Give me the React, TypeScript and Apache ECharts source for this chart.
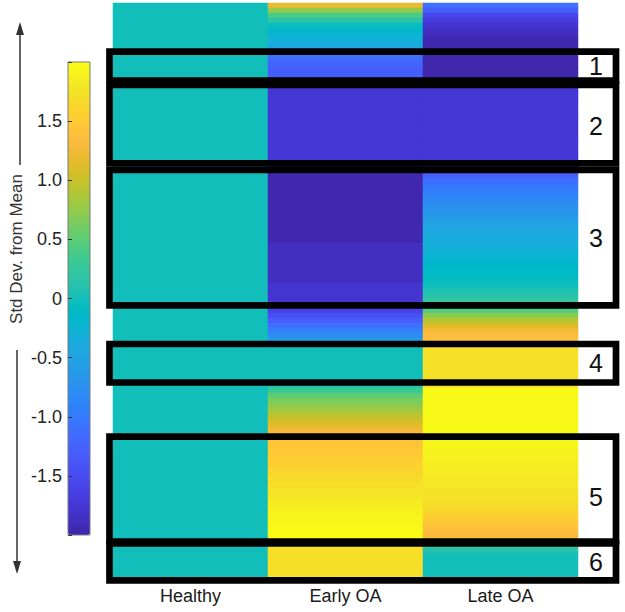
import React, { useEffect, useRef } from "react";
import * as echarts from "echarts";

const categories = ["Healthy", "Early OA", "Late OA"];

const healthy = [
  0, 0, 0, 0, 0, 0, 0, 0, 0, 0, 0, 0, 0, 0, 0, 0, 0, 0, 0, 0, 0, 0, 0,
  0, 0, 0, 0, 0, 0, 0, 0, 0, 0, 0, 0, 0, 0, 0, 0, 0, 0, 0, 0, 0, 0, 0,
  0, 0, 0, 0, 0, 0, 0, 0, 0, 0, 0, 0, 0, 0, 0, 0, 0, 0, 0, 0, 0, 0, 0,
  0, 0, 0, 0, 0, 0, 0, 0, 0, 0, 0, 0, 0, 0, 0, 0, 0, 0, 0, 0, 0, 0, 0,
  0, 0, 0, 0, 0, 0, 0, 0, 0, 0, 0, 0, 0, 0, 0, 0, 0, 0, 0, 0, 0, 0, 0,
];

const earlyOA = [
  1.2, 0.75, 0.4, 0.15, -0.05, -0.15, -0.25, -0.32, -0.4,
  -0.8, -1.05, -1.15, -1.25, -1.3, -1.3, -1.5, -1.75,
  -1.75, -1.75, -1.75, -1.75, -1.75, -1.75, -1.75, -1.75, -1.75, -1.75, -1.75, -1.75, -1.75, -1.75, -1.75,
  -1.8, -1.9,
  -1.97, -1.97, -1.97, -1.97, -1.97, -1.97, -1.97, -1.97, -1.97, -1.97, -1.97, -1.97, -1.97, -1.97,
  -1.88, -1.88, -1.88, -1.88, -1.88, -1.88, -1.88, -1.88,
  -1.78, -1.78, -1.78, -1.78,
  -1.75, -1.6, -1.45, -1.3, -1.12, -0.95, -0.78, -0.6,
  0, 0, 0, 0, 0, 0, 0, 0,
  0.1, 0.3, 0.5, 0.62, 0.72, 0.82, 0.93, 1.05, 1.15, 1.25,
  1.35, 1.42, 1.45, 1.48, 1.5, 1.53, 1.57, 1.6, 1.64, 1.68, 1.72,
  1.75, 1.78, 1.82, 1.85, 1.88, 1.92, 1.95, 1.97, 1.98, 1.99, 1.99,
  1.7, 1.7, 1.7, 1.7, 1.7, 1.7, 1.7,
];

const lateOA = [
  -1.1, -1.3, -1.55, -1.7, -1.78, -1.85, -1.9, -1.95, -1.98,
  -1.98, -1.98, -1.98, -1.98, -1.98, -1.98, -1.98,
  -1.8,
  -1.75, -1.75, -1.75, -1.75, -1.75, -1.75, -1.75, -1.75, -1.75, -1.75, -1.75, -1.75, -1.75, -1.75, -1.75,
  -1.6,
  -1.45, -1.25, -1.15, -1.05, -0.98, -0.9, -0.82, -0.75, -0.68, -0.62, -0.56, -0.5, -0.45, -0.4,
  -0.36, -0.32, -0.28, -0.24, -0.2, -0.17, -0.14, -0.1, -0.06, -0.02, 0.05, 0.12, 0.22,
  0.3, 0.45, 0.7, 0.9, 1.1, 1.25, 1.35, 1.4,
  1.72, 1.72, 1.72, 1.72, 1.72, 1.72, 1.72, 1.72, 1.72,
  1.98, 1.98, 1.98, 1.98, 1.98, 1.98, 1.98, 1.98, 1.98,
  1.97, 1.95, 1.94, 1.92, 1.9, 1.88, 1.86, 1.84, 1.82, 1.8, 1.78,
  1.76, 1.74, 1.72, 1.68, 1.63, 1.57, 1.5, 1.43, 1.36, 1.3, 1.28,
  0.3, 0.12, 0, 0, 0, 0, 0,
];

const colorbarTicks = [-1.5, -1.0, -0.5, 0, 0.5, 1.0, 1.5];

const boxLabels = ["1", "2", "3", "4", "5", "6"];

const parula = [
  "#3e26a8", "#402ab4", "#422ec0", "#4332cb", "#4537d5", "#463cde", "#4741e5", "#4747eb",
  "#484df0", "#4852f4", "#4758f8", "#465efb", "#4563fd", "#4269fe", "#3e6fff", "#3875fe",
  "#327cfc", "#2f81fa", "#2e87f7", "#2d8cf3", "#2b91ef", "#2796eb", "#259be8", "#23a0e5",
  "#20a5e3", "#1ca9df", "#18addb", "#12b1d6", "#08b5d0", "#01b8ca", "#02bac3", "#0bbdbd",
  "#19bfb6", "#24c1ae", "#2cc4a7", "#31c69f", "#37c897", "#3fca8e", "#4acb84", "#57cc7a",
  "#64cd6f", "#72cd64", "#81cc59", "#8fcb4e", "#9dc943", "#abc739", "#b9c431", "#c5c22a",
  "#d1bf27", "#dcbd29", "#e6bb2d", "#f0ba36", "#f8ba3d", "#febe3c", "#fec338", "#fec934",
  "#fccf30", "#fad62d", "#f7dc2a", "#f5e327", "#f5e924", "#f6ef20", "#f7f51b", "#f9fb15",
];

const FONT = "'Liberation Sans', Arial, Helvetica, sans-serif";

// layout constants
const GRID = { left: 113, top: 3, width: 465, height: 575 };
const CBAR = { left: 68, top: 62, width: 22, height: 473 };

// annotation boxes (stroke-centre coordinates) and label centres
const BOX_X0 = 109.5;
const BOX_X1 = 616;
const BOX_W = 6.7;
const boxTops = [51.7, 85, 170, 344, 436.7, 543.5];
const boxBottoms = [80.7, 163.3, 305.3, 382.5, 541.5, 580.3];
const labelYs = [66, 126, 238, 363, 497, 562];

export default function App() {
  const ref = useRef<HTMLDivElement>(null);

  useEffect(() => {
    if (!ref.current) return;
    const chart = echarts.init(ref.current, undefined, { renderer: "svg" });

    const nRows = earlyOA.length;
    const rowCats = Array.from({ length: nRows }, (_, i) => String(i));
    const cols = [healthy, earlyOA, lateOA];
    const data: [number, number, number][] = [];
    cols.forEach((col, x) => {
      col.forEach((v, y) => data.push([x, y, v]));
    });

    const graphics: any[] = [];
    // y-axis title
    graphics.push({
      type: "text",
      x: 16,
      y: 249,
      rotation: Math.PI / 2,
      z: 100,
      style: {
        text: "Std Dev. from Mean",
        fontSize: 17,
        fontFamily: FONT,
        fill: "#333",
        align: "center",
        verticalAlign: "middle",
        textAlign: "center",
        textVerticalAlign: "middle",
      },
    });
    // arrows
    graphics.push({
      type: "line",
      z: 100,
      shape: { x1: 20, y1: 165, x2: 20, y2: 32 },
      style: { stroke: "#333", lineWidth: 1.5 },
    });
    graphics.push({
      type: "polygon",
      z: 100,
      shape: { points: [[20, 22], [16, 35], [24, 35]] },
      style: { fill: "#333" },
    });
    graphics.push({
      type: "line",
      z: 100,
      shape: { x1: 17, y1: 350, x2: 17, y2: 562 },
      style: { stroke: "#333", lineWidth: 1.5 },
    });
    graphics.push({
      type: "polygon",
      z: 100,
      shape: { points: [[17, 574], [13, 561], [21, 561]] },
      style: { fill: "#333" },
    });
    // boxes and numbers
    boxLabels.forEach((lab, i) => {
      graphics.push({
        type: "rect",
        z: 100,
        shape: {
          x: BOX_X0,
          y: boxTops[i],
          width: BOX_X1 - BOX_X0,
          height: boxBottoms[i] - boxTops[i],
        },
        style: { fill: "none", stroke: "#000", lineWidth: BOX_W },
      });
      graphics.push({
        type: "text",
        z: 101,
        x: 596,
        y: labelYs[i],
        style: {
          text: lab,
          fontSize: 25,
          fontFamily: FONT,
          fill: "#111",
          align: "center",
          verticalAlign: "middle",
          textAlign: "center",
          textVerticalAlign: "middle",
        },
      });
    });

    chart.setOption({
      animation: false,
      backgroundColor: "#fff",
      grid: [
        { ...GRID, containLabel: false },
        {
          ...CBAR,
          containLabel: false,
          show: true,
          borderColor: "#7a7a7a",
          borderWidth: 1,
          backgroundColor: "transparent",
          z: 10,
        },
      ],
      xAxis: [
        {
          type: "category",
          gridIndex: 0,
          data: categories,
          axisLine: { show: false },
          axisTick: { show: false },
          splitLine: { show: false },
          axisLabel: { fontSize: 18, color: "#1a1a1a", margin: 9, fontFamily: FONT },
        },
        {
          type: "category",
          gridIndex: 1,
          data: [""],
          show: false,
        },
      ],
      yAxis: [
        {
          type: "category",
          gridIndex: 0,
          data: rowCats,
          inverse: true,
          show: false,
        },
        {
          type: "value",
          gridIndex: 1,
          min: -2,
          max: 2,
          interval: 0.5,
          position: "left",
          z: 11,
          axisLine: { show: false },
          splitLine: { show: false },
          axisTick: { show: true, inside: true, length: 4, lineStyle: { color: "#333", width: 1 } },
          axisLabel: {
            fontSize: 18,
            color: "#222",
            margin: 6,
            fontFamily: FONT,
            formatter: (v: number) => {
              const t = colorbarTicks.find((c) => Math.abs(c - v) < 1e-6);
              if (t === undefined) return "";
              return t === 0 ? "0" : t.toFixed(1);
            },
          },
        },
      ],
      visualMap: {
        type: "continuous",
        min: -2,
        max: 2,
        seriesIndex: 0,
        calculable: false,
        left: CBAR.left,
        top: CBAR.top,
        itemWidth: CBAR.width,
        itemHeight: CBAR.height,
        padding: 0,
        inRange: { color: parula },
        hoverLink: false,
      },
      series: [
        {
          type: "heatmap",
          xAxisIndex: 0,
          yAxisIndex: 0,
          data,
          itemStyle: { borderWidth: 0 },
          emphasis: { disabled: true },
          progressive: 0,
        },
        {
          type: "scatter",
          xAxisIndex: 1,
          yAxisIndex: 1,
          data: [],
          silent: true,
        },
      ],
      graphic: graphics,
    });

    return () => chart.dispose();
  }, []);

  return (
    <div
      ref={ref}
      style={{ position: "fixed", left: 0, top: 0, width: 625, height: 612 }}
    />
  );
}
